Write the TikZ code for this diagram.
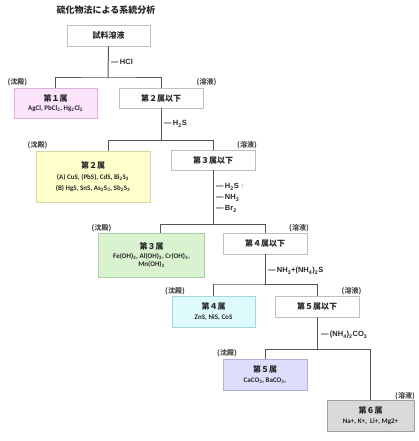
\documentclass[tikz,border=0pt]{standalone}
\usepackage{fontspec}
\setmainfont{Liberation Sans}
\newfontfamily\jp{Noto Sans CJK JP}
\newfontfamily\calfont{Carlito}
\newcommand{\mysub}[1]{\textsubscript{#1}}
\definecolor{linec}{HTML}{555555}
\definecolor{txt}{HTML}{262626}
\definecolor{wborder}{HTML}{BFBFBF}
\definecolor{pinkf}{HTML}{FCE4FC}\definecolor{pinkb}{HTML}{DDB0DD}
\definecolor{yelf}{HTML}{FFFFCC}\definecolor{yelb}{HTML}{D6D6A6}
\definecolor{grnf}{HTML}{D9F2D0}\definecolor{grnb}{HTML}{AECFA6}
\definecolor{cyf}{HTML}{DDFBFC}\definecolor{cyb}{HTML}{A6D6DA}
\definecolor{lavf}{HTML}{DEDEFC}\definecolor{lavb}{HTML}{B0B0DE}
\definecolor{gryf}{HTML}{D9D9D9}\definecolor{gryb}{HTML}{A0A0A0}
\begin{document}
\begin{tikzpicture}[x=1pt,y=-1pt,
  box/.style={draw=wborder, line width=0.8pt, fill=white, inner sep=0pt, text=txt, align=center,
    font=\jp\bfseries\fontsize{8}{10}\selectfont},
  conn/.style={draw=linec, line width=1pt},
  reag/.style={anchor=west, inner sep=0pt, text=txt, font=\bfseries\fontsize{7.5}{9}\selectfont},
  tag/.style={inner sep=0pt, text=txt!85, font=\jp\bfseries\fontsize{7}{8}\selectfont}]
\useasboundingbox (0,0) rectangle (418,441);
\newcommand{\fm}{\calfont\bfseries\fontsize{7}{8}\selectfont}
\newcommand{\dsh}{—\,}

\node[inner sep=0pt, text=txt, font=\jp\bfseries\fontsize{9}{10}\selectfont] (title) at (106,10) {硫化物法による系統分析};

% boxes
\node[box, minimum width=83pt, minimum height=21pt] (B0) at (108.5,35.5) {試料溶液};
\node[box, fill=pinkf, draw=pinkb, minimum width=83pt, minimum height=30pt] (B1) at (55.5,103)
  {第１属\\[-0.5pt]{\fm AgCl, PbCl\mysub{2}, Hg\mysub{2}Cl\mysub{2}}};
\node[box, minimum width=84pt, minimum height=20pt] (W1) at (161,98) {第２属以下};
\node[box, fill=yelf, draw=yelb, minimum width=114pt, minimum height=51pt] (B2) at (93,176.5)
  {第２属\\[1pt]{\fm (A) CuS, (PbS), CdS, Bi\mysub{2}S\mysub{3}}\\[0.5pt]{\fm (B) HgS, SnS, As\mysub{2}S\mysub{3}, Sb\mysub{2}S\mysub{3}}};
\node[box, minimum width=84pt, minimum height=20pt] (W2) at (213,160) {第３属以下};
\node[box, fill=grnf, draw=grnb, minimum width=106pt, minimum height=44pt] (B3) at (151.5,255)
  {第３属\\[-0.5pt]{\fm Fe(OH)\mysub{3}, Al(OH)\mysub{3}, Cr(OH)\mysub{3},}\\[-2pt]{\fm Mn(OH)\mysub{3}}};
\node[box, minimum width=84pt, minimum height=21pt] (W3) at (265,243.5) {第４属以下};
\node[box, fill=cyf, draw=cyb, minimum width=83pt, minimum height=31pt] (B4) at (213.5,311.5)
  {第４属\\[-0.5pt]{\fm ZnS, NiS, CoS}};
\node[box, minimum width=84pt, minimum height=21pt] (W4) at (317,306.5) {第５属以下};
\node[box, fill=lavf, draw=lavb, minimum width=84pt, minimum height=31pt] (B5) at (265,374.5)
  {第５属\\[-0.5pt]{\fm CaCO\mysub{3}, BaCO\mysub{3},}};
\node[box, fill=gryf, draw=gryb, minimum width=87pt, minimum height=31pt] (B6) at (370.5,415.5)
  {第６属\\[-0.5pt]{\fm Na+, K+,\ \ Li+, Mg2+}};

% junction coordinates
\coordinate (h1) at (108,78);
\coordinate (h2) at (108,140);
\coordinate (h3) at (160,224);
\coordinate (h4) at (213,284);
\coordinate (h5) at (265,349);

% connectors
\draw[conn] (B0.south) -- (h1);
\draw[conn] (B1.north) |- (h1) -| (W1.north);
\draw[conn] (W1.south) -- (W1.south |- h2);
\draw[conn] (B2.north -| h2) -- (h2) -| (W2.north);
\draw[conn] (W2.south) -- (W2.south |- h3);
\draw[conn] (B3.north -| h3) -- (h3) -| (W3.north);
\draw[conn] (W3.south) -- (W3.south |- h4);
\draw[conn] (B4.north) |- (h4) -| (W4.north);
\draw[conn] (W4.south) -- (W4.south |- h5);
\draw[conn] (B5.north) |- (h5) -| (B6.north);

% reagents
\node[reag] (r1) at (111,62) {\dsh HCl};
\node[reag] (r2) at (164,124) {\dsh H\mysub{2}S};
\node[reag] (r3) at (216,187) {\dsh H\mysub{2}S {\color{txt!45}\mdseries↑}};
\node[reag] (r4) at (216,198) {\dsh NH\mysub{3}};
\node[reag] (r5) at (216,209) {\dsh Br\mysub{2}};
\node[reag] (r6) at (268,271) {\dsh NH\mysub{3}+(NH\mysub{4})\mysub{2}S};
\node[reag] (r7) at (321,335) {\dsh (NH\mysub{4})\mysub{2}CO\mysub{3}};

% tags
\node[tag] (t1a) at (17.5,82) {(沈殿)};
\node[tag] (t1b) at (206.5,82) {(溶液)};
\node[tag] (t2a) at (37.5,145) {(沈殿)};
\node[tag] (t2b) at (247,145) {(溶液)};
\node[tag] (t3a) at (101.5,228) {(沈殿)};
\node[tag] (t3b) at (299,228) {(溶液)};
\node[tag] (t4a) at (175,291) {(沈殿)};
\node[tag] (t4b) at (351.5,291) {(溶液)};
\node[tag] (t5a) at (227,353) {(沈殿)};
\node[tag] (t6b) at (405,396) {(溶液)};
\end{tikzpicture}
\end{document}
